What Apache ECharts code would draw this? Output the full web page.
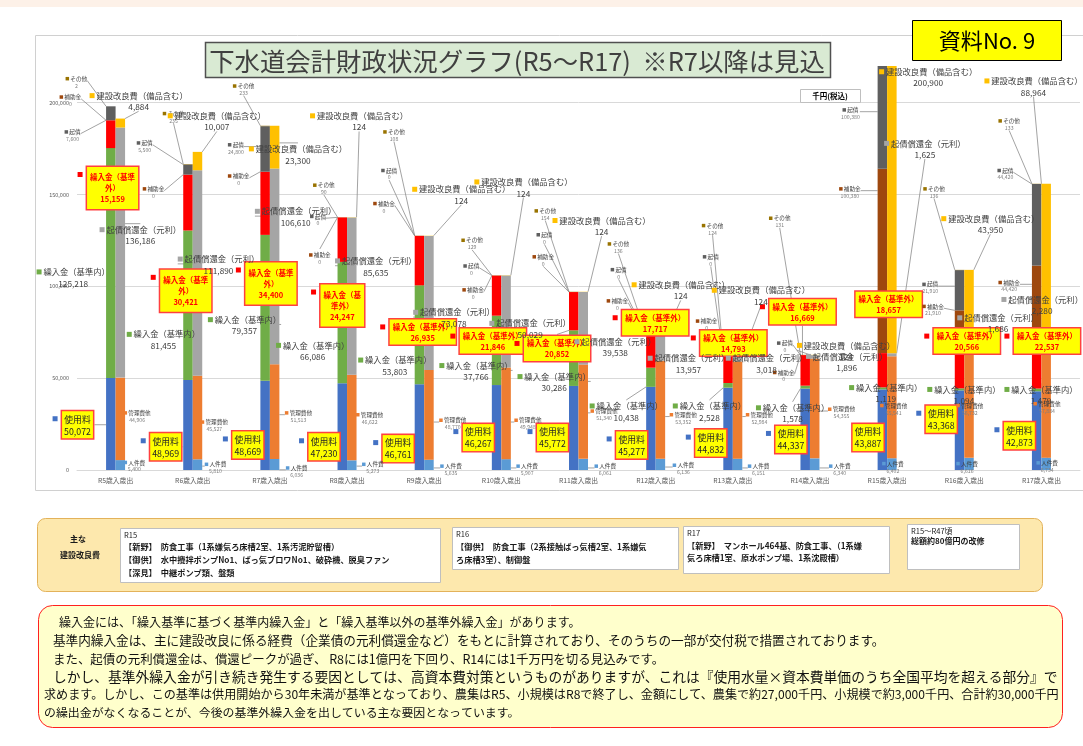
<!DOCTYPE html>
<html>
<head>
<meta charset="utf-8">
<script src="https://cdn.jsdelivr.net/npm/echarts@6/dist/echarts.min.js"></script>
<style>
  html, body { margin: 0; padding: 0; background: #fff; }
  #main { width: 1083px; height: 746px; }
</style>
</head>
<body>
<div id="main"></div>
<script>
const FONT = '"Noto Sans CJK JP", "Noto Sans", sans-serif'

const categories = ['R5歳入歳出', 'R6歳入歳出', 'R7歳入歳出', 'R8歳入歳出', 'R9歳入歳出', 'R10歳入歳出', 'R11歳入歳出',
  'R12歳入歳出', 'R13歳入歳出', 'R14歳入歳出', 'R15歳入歳出', 'R16歳入歳出', 'R17歳入歳出']

// 歳入（千円）
const usageFee = [50072, 48969, 48669, 47230, 46761, 46267, 45772, 45277, 44832, 44337, 43887, 43368, 42873]
const transferIn = [125218, 81455, 79357, 66086, 53803, 37766, 30286, 10438, 2528, 1578, 1119, 1094, 1479]
const transferOut = [15159, 30421, 34400, 24247, 26935, 21846, 20852, 17717, 14793, 16669, 18657, 20566, 22537]
const subsidy = [0, 0, 0, 0, 0, 0, 0, 0, 0, 0, 100380, 21910, 44420]
const bonds = [7600, 5500, 24800, 0, 0, 0, 0, 0, 0, 0, 100380, 21910, 44420]
const other = [2, 235, 233, 90, 108, 129, 154, 136, 124, 131, 45, 136, 133]

// 歳出（千円）
const personnel = [5400, 5810, 6036, 5273, 5635, 5907, 6061, 6136, 6151, 6340, 6402, 6616, 6734]
const management = [44906, 45527, 51513, 46622, 48770, 49948, 51340, 53352, 52984, 54355, 55541, 56732, 57884]
const debtRepay = [136186, 111890, 106610, 85635, 73078, 50029, 39538, 13957, 3018, 1896, 1625, 1686, 2280]
const construction = [4884, 10007, 23300, 124, 124, 124, 124, 124, 124, 124, 200900, 43950, 88964]

const yTicks = [0, 50000, 100000, 150000, 200000]

// label placement: [px offset from category centre, level in 千円/1000]
const otherPos = [[-50, 215], [-30, 196], [-37, 211], [-34, 157], [-41, 186], [-40, 127], [-44, 143], [-48, 125], [-31, 135], [-41, 139], null, [-41, 155], [-43, 192]]
const subsidyPos = [[-56, 205], [-50, 155], [-42, 162], [-38, 119], [-51, 147], [-39, 100], [-46, 118], [-49, 94], [-37, 83], [-37, 55], [-48, 155], [-42, 91], [-43, 104]]
const bondsPos = [[-51, 186], [-56, 180], [-42, 179], [-37, 140], [-43, 165], [-38, 113], [-42, 130], [-45, 111], [-30, 118], [-33, 71], [-46, 198], [-42, 103], [-44, 165]]
const outPos = [[-30, 165], [-34, 109], [-26, 113], [-28, 101], [-36, 82], [-43, 77], [-56, 73], [-35, 87], [-34, 76], [-42, 93], [-33, 97], [-32, 77], [-29, 77]]
const inPos = [[-79, 111], [-66, 77], [-62, 85], [-71, 71], [-66, 63], [-62, 60], [-61, 54], [-66, 38], [-60, 38], [-54, 37], [-38, 48], [-37, 47], [-37, 47]]
const usagePos = [[-55, 32], [-44, 20], [-39, 21], [-40, 20], [-43, 19], [-40, 25], [-43, 25], [-41, 21], [-39, 22], [-36, 24], [-36, 25], [-40, 35], [-39, 26]]
const personnelPos = [[8, 6], [12, 5], [16, 3], [15, 5], [16, 4], [15, 4], [16, 4], [17, 4.5], [15, 4], [19, 4], [-5, 5.4], [-8, 5.4], [-5, 5.8]]
const managementPos = [[8, 33], [8, 28], [15, 33], [9, 32], [15, 29], [13, 29], [12, 34], [14, 32], [13, 32], [18, 35], [-7, 37], [-8, 37], [-8, 38]]
const debtPos = [[-16, 134], [-15, 118], [-15, 144], [-12, 117], [-11, 89], [-12, 83], [-4, 73], [-8, 64], [-7, 64], [-4, 65], [-3, 181], [-7, 86], [-40, 96]]
const constructionPos = [[-26, 207], [-25, 196], [-21, 178], [-37, 196], [-12, 156], [-27, 160], [-26, 139], [-24, 104], [-21, 101], [-13, 71], [-8, 220], [-23, 140], [-57, 215]]

const chart = echarts.init(document.getElementById('main'))

const fmt = v => Number(v).toLocaleString('en-US')

function placeLabel (pos, side, shiftX, shiftY) {
  return function (p) {
    const at = pos[p.dataIndex]
    if (!at) return {}
    const cx = side === 'rev' ? p.rect.x + p.rect.width : p.rect.x
    const left = cx + at[0] + (shiftX || 0)
    const top = chart.convertToPixel({ yAxisIndex: 0 }, at[1] * 1000) + (shiftY || 0)
    return { x: left + p.labelRect.width / 2, y: top, align: 'center', verticalAlign: 'top' }
  }
}

const guide = { show: true, lineStyle: { color: '#8c8c8c', width: 0.8 } }

function smallLabel (color) {
  return {
    show: true, align: 'center',
    formatter: p => '{m|}{n| ' + p.seriesName + '}\n{v|' + fmt(p.value) + '}',
    rich: {
      m: { width: 3.5, height: 3.5, backgroundColor: color },
      n: { fontSize: 5.6, color: '#404040', lineHeight: 7, fontFamily: FONT },
      v: { fontSize: 5.2, color: '#7f7f7f', lineHeight: 7, fontFamily: FONT }
    }
  }
}

function bigLabel (color) {
  return {
    show: true, align: 'center',
    formatter: p => '{m|}{n| ' + p.seriesName + '}\n{v|' + fmt(p.value) + '}',
    rich: {
      m: { width: 5, height: 5, backgroundColor: color },
      n: { fontSize: 8.3, color: '#404040', lineHeight: 11.5, fontFamily: FONT },
      v: { fontSize: 8.3, color: '#404040', lineHeight: 11.5, fontFamily: FONT }
    }
  }
}

function markerLabel (color) {
  return {
    show: true, formatter: '{m|}',
    rich: { m: { width: 5, height: 5, backgroundColor: color } }
  }
}

function bar (name, stack, data, color, label, layout, withGuide) {
  return {
    name, type: 'bar', stack, data, barWidth: 9.5, barGap: '0%',
    itemStyle: { color },
    label, labelLayout: layout,
    labelLine: withGuide ? guide : { show: false },
    emphasis: { disabled: true }
  }
}

const outName = i => i <= 2 ? '繰入金（基準\n外）' : (i === 3 ? '繰入金（基\n準外）' : '繰入金（基準外）')

const series = [
  bar('使用料', 'rev', usageFee, '#4472c4', {
    show: true, align: 'center',
    formatter: p => p.seriesName + '\n' + fmt(p.value),
    backgroundColor: '#ffff00', borderColor: '#ff4040', borderWidth: 1.5,
    padding: [2, 2, 1, 2], color: '#262626', fontSize: 8.8, lineHeight: 12, fontFamily: FONT
  }, placeLabel(usagePos, 'rev'), true),
  bar('繰入金（基準内）', 'rev', transferIn, '#70ad47', bigLabel('#70ad47'), placeLabel(inPos, 'rev'), true),
  bar('繰入金（基準外）', 'rev', transferOut.map((v, i) => i < 4 ? { value: v, label: { padding: [5, 3, 4, 3] } } : v), '#ff0000', {
    show: true, align: 'center',
    formatter: p => outName(p.dataIndex) + '\n' + fmt(p.value),
    backgroundColor: '#ffff00', borderColor: '#ff4040', borderWidth: 1.5,
    padding: [2, 3, 1, 3], color: '#ff0000', fontWeight: 'bold', fontSize: 7.5, lineHeight: 11, fontFamily: FONT
  }, placeLabel(outPos, 'rev'), true),
  bar('補助金', 'rev', subsidy, '#9e480e', smallLabel('#9e480e'), placeLabel(subsidyPos, 'rev'), true),
  bar('起債', 'rev', bonds, '#5f5f5f', smallLabel('#5f5f5f'), placeLabel(bondsPos, 'rev'), true),
  bar('その他', 'rev', other.map((v, i) => otherPos[i] ? v : { value: v, label: { show: false } }), '#997300',
    smallLabel('#997300'), placeLabel(otherPos, 'rev'), true),
  bar('mark-usage', 'rev', usageFee.map(() => 0), '#4472c4', markerLabel('#4472c4'), placeLabel(usagePos, 'rev', -8, 5), false),
  bar('mark-out', 'rev', transferOut.map(() => 0), '#ff0000', markerLabel('#ff0000'), placeLabel(outPos, 'rev', -8, 5), false),

  bar('人件費', 'exp', personnel, '#5b9bd5', smallLabel('#5b9bd5'), placeLabel(personnelPos, 'exp'), true),
  bar('管理費他', 'exp', management, '#ed7d31', smallLabel('#ed7d31'), placeLabel(managementPos, 'exp'), true),
  bar('起債償還金（元利）', 'exp', debtRepay, '#a5a5a5', bigLabel('#a5a5a5'), placeLabel(debtPos, 'exp'), true),
  bar('建設改良費（備品含む）', 'exp', construction, '#ffc000', bigLabel('#ffc000'), placeLabel(constructionPos, 'exp'), true)
]

// width fitting for the long Japanese text lines
const ctx = document.createElement('canvas').getContext('2d')
function fitSize (text, target, weight, lo, hi) {
  ctx.font = (weight || 'normal') + ' 100px ' + FONT
  const s = 100 * target / ctx.measureText(text).width
  return Math.max(lo, Math.min(hi, s))
}

function txt (x, y, text, size, opts) {
  opts = opts || {}
  const font = (opts.weight || 'normal') + ' ' + size + 'px ' + FONT
  return {
    type: 'text', x, y, z: 100, silent: true,
    style: {
      text, font, fill: opts.color || '#1a1a1a',
      align: opts.align || 'left', textAlign: opts.align || 'left',
      verticalAlign: 'middle', textVerticalAlign: 'middle'
    }
  }
}

function box (x, y, w, h, fill, stroke, lw, r) {
  return {
    type: 'rect', z: 90, silent: true,
    shape: { x, y, width: w, height: h, r: r || 0 },
    style: { fill, stroke, lineWidth: lw }
  }
}

const titleText = '下水道会計財政状況グラフ(R5～R17)  ※R7以降は見込'
const notes = [
  [59, 622, 522, '繰入金には、「繰入基準に基づく基準内繰入金」と「繰入基準以外の基準外繰入金」があります。'],
  [53, 640, 832, '基準内繰入金は、主に建設改良に係る経費（企業債の元利償還金など）をもとに計算されており、そのうちの一部が交付税で措置されております。'],
  [53, 659, 612, 'また、起債の元利償還金は、償還ピークが過ぎ、 R8には1億円を下回り、R14には1千万円を切る見込みです。'],
  [53, 677, 1005, 'しかし、基準外繰入金が引き続き発生する要因としては、高資本費対策というものがありますが、これは『使用水量×資本費単価のうち全国平均を超える部分』で'],
  [44, 694, 1016, '求めます。しかし、この基準は供用開始から30年未満が基準となっており、農集はR5、小規模はR8で終了し、金額にして、農集で約27,000千円、小規模で約3,000千円、合計約30,000千円'],
  [44, 712, 476, 'の繰出金がなくなることが、今後の基準外繰入金を出している主な要因となっています。']
]

const graphics = [
  { type: 'rect', z: -10, silent: true, shape: { x: 0, y: 0, width: 1083, height: 7 }, style: { fill: '#fdf1e8' } },
  { type: 'rect', z: -10, silent: true, shape: { x: 35.5, y: 35.5, width: 1060, height: 455 }, style: { fill: 'none', stroke: '#d0d0d0', lineWidth: 1 } },
  box(205.5, 42.5, 625, 35, '#d9ead3', '#505050', 1.5),
  txt(517, 61, titleText, fitSize(titleText, 616, 'normal', 18, 26), { align: 'center', color: '#404040' }),
  box(912.5, 20.5, 149, 40, '#ffff00', '#000000', 1),
  txt(987, 41, '資料No. 9', 22, { align: 'center', color: '#000' }),
  box(800.5, 89.5, 60, 13, '#ffffff', '#bfbfbf', 1),
  txt(830, 96, '千円(税込)', 7.5, { align: 'center', weight: 'bold', color: '#000' }),

  box(37.5, 518.5, 1005, 73, '#fde8ad', '#e3b25a', 1, 8),
  txt(78, 539, '主な', 8, { align: 'center', weight: 'bold' }),
  txt(80, 555, '建設改良費', 8, { align: 'center', weight: 'bold' }),
  box(120.5, 528.5, 320, 54, '#ffffff', '#bfbfbf', 1),
  txt(124, 535, 'R15', 7.5),
  txt(124, 547, '【新野】　防食工事（1系嫌気ろ床槽2室、1系汚泥貯留槽）', 8.2, { weight: 'bold' }),
  txt(124, 560, '【御供】　水中攪拌ポンプNo1、ばっ気ブロワNo1、破砕機、脱臭ファン', 8.2, { weight: 'bold' }),
  txt(124, 573, '【深見】　中継ポンプ類、盤類', 8.2, { weight: 'bold' }),
  box(452.5, 527.5, 226, 42, '#ffffff', '#bfbfbf', 1),
  txt(456, 534, 'R16', 7.5),
  txt(456, 547, '【御供】　防食工事（2系接触ばっ気槽2室、1系嫌気', 8.2, { weight: 'bold' }),
  txt(456, 560, 'ろ床槽3室）、制御盤', 8.2, { weight: 'bold' }),
  box(683.5, 526.5, 206, 47, '#ffffff', '#bfbfbf', 1),
  txt(687, 533, 'R17', 7.5),
  txt(687, 546, '【新野】　マンホール464基、防食工事、（1系嫌', 8.2, { weight: 'bold' }),
  txt(687, 558, '気ろ床槽1室、原水ポンプ場、1系沈殿槽）', 8.2, { weight: 'bold' }),
  box(907.5, 524.5, 112, 45, '#ffffff', '#bfbfbf', 1),
  txt(911, 531, 'R15～R47頃', 7.5),
  txt(911, 541, '総額約80億円の改修', 8, { weight: 'bold' }),

  box(38.5, 605.5, 1024, 122, '#ffffcc', '#ff2020', 1, 14)
]
notes.forEach(n => graphics.push(txt(n[0], n[1], n[3], fitSize(n[3], n[2], 'normal', 11.8, 13.8), { color: '#111' })))

const option = {
  animation: false,
  textStyle: { fontFamily: FONT },
  grid: { left: 77, right: 3, top: 66, bottom: 276, outerBoundsMode: 'none' },
  xAxis: {
    type: 'category',
    data: categories,
    axisTick: { show: false },
    axisLine: { lineStyle: { color: '#d9d9d9' } },
    axisLabel: { fontSize: 6.8, color: '#595959', margin: 7, fontFamily: FONT }
  },
  yAxis: {
    type: 'value',
    min: 0,
    max: 220000,
    interval: 50000,
    axisLine: { show: false },
    axisTick: { show: false },
    splitLine: { lineStyle: { color: ['#d9d9d9', '#d9d9d9', '#d9d9d9', '#d9d9d9', '#d9d9d9', 'rgba(0,0,0,0)'], width: 1 } },
    axisLabel: {
      fontSize: 5.5, color: '#595959', margin: 8,
      formatter: v => yTicks.indexOf(v) >= 0 ? fmt(v) : ''
    }
  },
  graphic: { elements: graphics },
  series
}

chart.setOption(option)
</script>
</body>
</html>
